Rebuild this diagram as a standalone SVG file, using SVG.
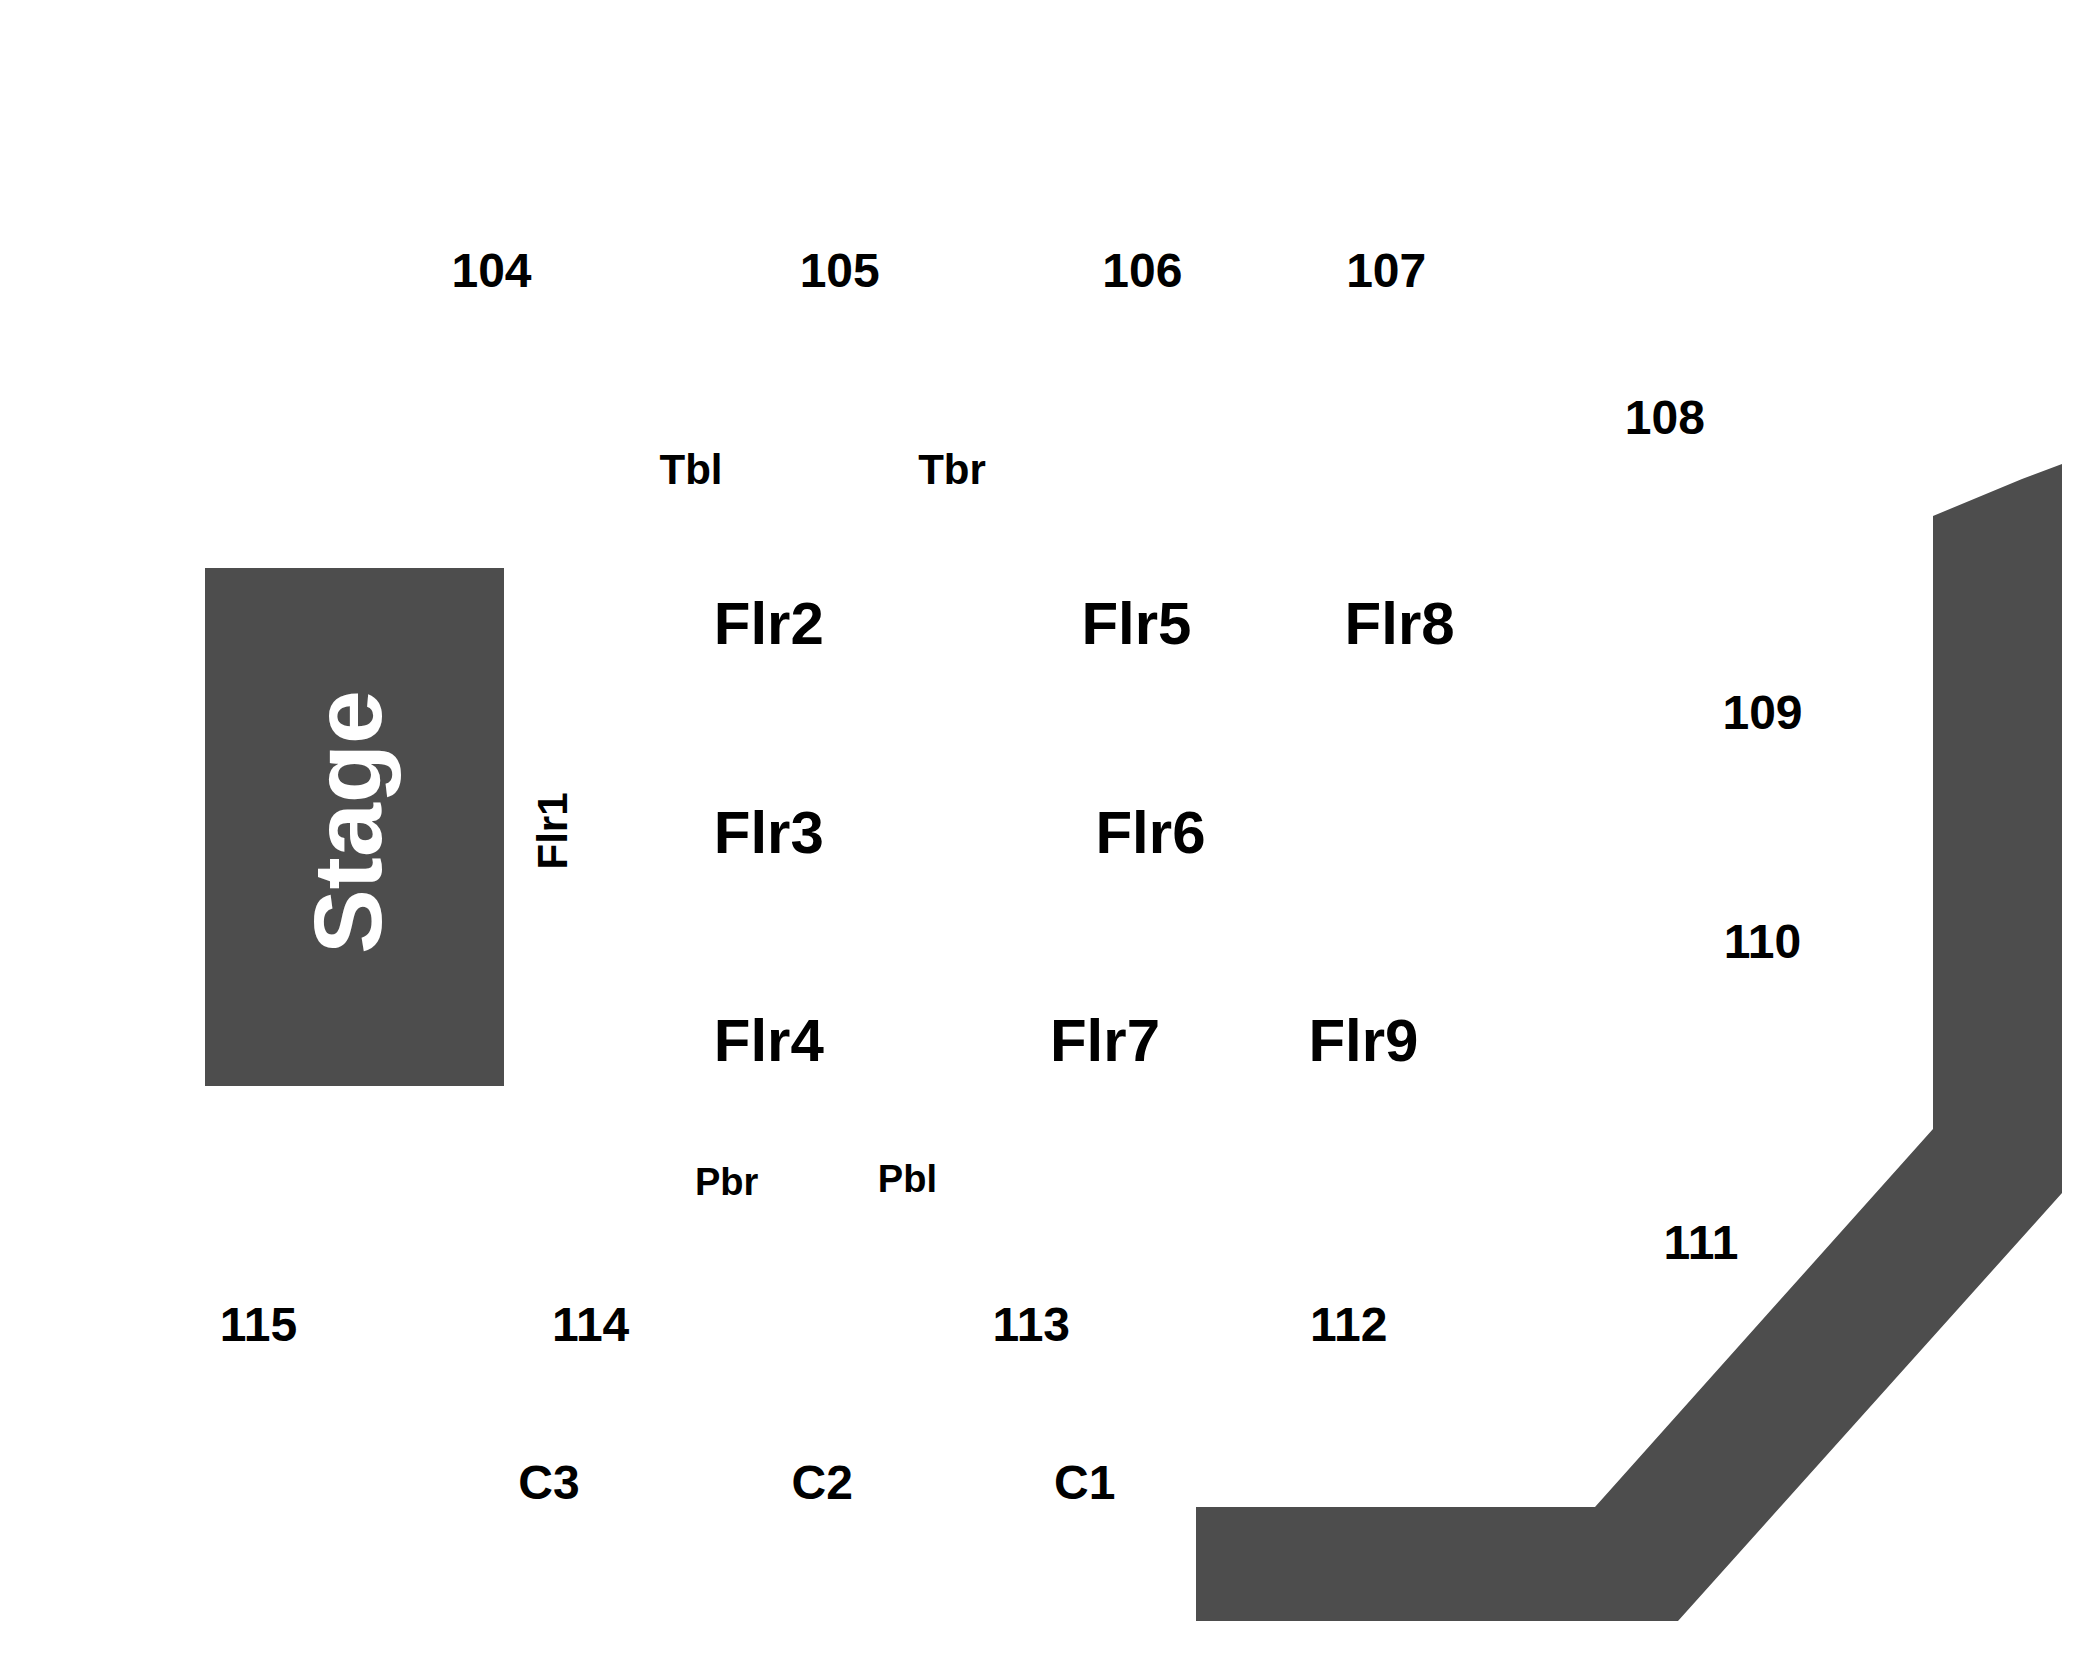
<svg xmlns="http://www.w3.org/2000/svg" width="2100" height="1680" viewBox="0 0 2100 1680">
<style>
.blk{fill:#4d4d4d;}
text{font-family:"Liberation Sans",Arial,sans-serif;font-weight:bold;fill:#000;text-anchor:middle;}
.sec{font-size:48px;}
.flr{font-size:60px;}
.sm{font-size:42px;}
.xs{font-size:38px;}
.stage{font-size:97px;fill:#fff;}
</style>
<rect width="2100" height="1680" fill="#fff"/>
<g id="stage">
<rect class="blk" x="205" y="568" width="299" height="518"/>
<text class="stage" transform="translate(381,822) rotate(-90)" x="0" y="0">Stage</text>
</g>
<g id="wall">
<polygon class="blk" points="1933,516 2022,479 2062,464 2062,1193 1678,1621 1196,1621 1196,1507 1595,1507 1933,1129"/>
</g>
<g id="connectors"></g>
<g id="sec104"><text class="sec" x="491.5" y="286.5">104</text></g>
<g id="sec105"><text class="sec" x="839.7" y="286.5">105</text></g>
<g id="sec106"><text class="sec" x="1142.4" y="286.5">106</text></g>
<g id="sec107"><text class="sec" x="1386.2" y="286.5">107</text></g>
<g id="sec108"><text class="sec" x="1664.8" y="434">108</text></g>
<g id="sec109"><text class="sec" x="1762.5" y="728.5">109</text></g>
<g id="sec110"><text class="sec" x="1762.5" y="957.5">110</text></g>
<g id="sec111"><text class="sec" x="1701" y="1259">111</text></g>
<g id="sec112"><text class="sec" x="1348.7" y="1340.5">112</text></g>
<g id="sec113"><text class="sec" x="1031.3" y="1340.5">113</text></g>
<g id="sec114"><text class="sec" x="590.6" y="1340.5">114</text></g>
<g id="sec115"><text class="sec" x="258.5" y="1340.5">115</text></g>
<g id="secC3"><text class="sec" x="549" y="1498.7">C3</text></g>
<g id="secC2"><text class="sec" x="822.3" y="1498.7">C2</text></g>
<g id="secC1"><text class="sec" x="1084.8" y="1498.7">C1</text></g>
<g id="secTbl"><text class="sm" x="691" y="483.5">Tbl</text></g>
<g id="secTbr"><text class="sm" x="952" y="483.5">Tbr</text></g>
<g id="secPbr"><text class="xs" x="726.6" y="1194.7">Pbr</text></g>
<g id="secPbl"><text class="xs" x="907.4" y="1192">Pbl</text></g>
<g id="flr1"><text class="sm" transform="translate(567,831) rotate(-90)" x="0" y="0">Flr1</text></g>
<g id="flr2"><text class="flr" x="768.8" y="644">Flr2</text></g>
<g id="flr3"><text class="flr" x="768.8" y="853">Flr3</text></g>
<g id="flr4"><text class="flr" x="768.8" y="1060.7">Flr4</text></g>
<g id="flr5"><text class="flr" x="1136.4" y="644">Flr5</text></g>
<g id="flr6"><text class="flr" x="1150.5" y="853">Flr6</text></g>
<g id="flr7"><text class="flr" x="1105" y="1060.7">Flr7</text></g>
<g id="flr8"><text class="flr" x="1399.6" y="644">Flr8</text></g>
<g id="flr9"><text class="flr" x="1363.4" y="1060.7">Flr9</text></g>
</svg>
